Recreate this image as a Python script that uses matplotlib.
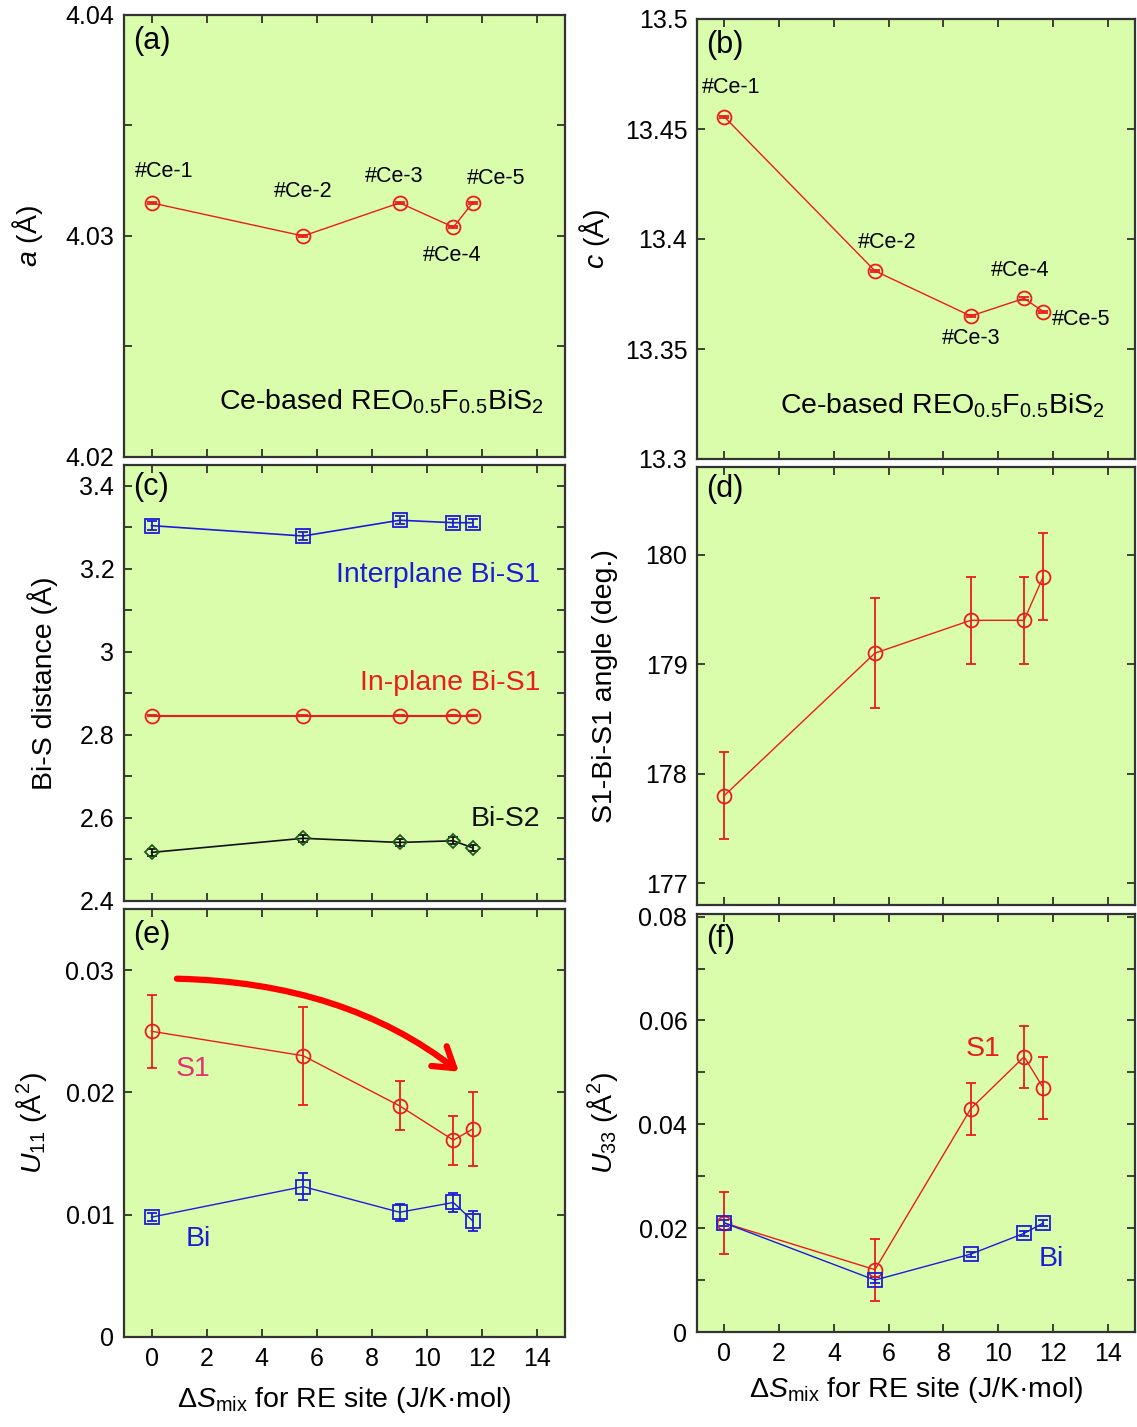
import matplotlib
matplotlib.use("Agg")
import matplotlib.pyplot as plt
from matplotlib.patches import FancyArrowPatch
from matplotlib.path import Path
from matplotlib.ticker import MultipleLocator

plt.rcParams['font.family'] = ['Liberation Sans', 'DejaVu Sans']
plt.rcParams['mathtext.fontset'] = 'custom'
plt.rcParams['mathtext.rm'] = 'Liberation Sans'
plt.rcParams['mathtext.it'] = 'Liberation Sans:italic'
plt.rcParams['mathtext.default'] = 'regular'

# mixing entropy of RE site for #Ce-1 ... #Ce-5
ds_mix = [0, 5.5, 9.0, 10.95, 11.65]
samples = ['#Ce-1', '#Ce-2', '#Ce-3', '#Ce-4', '#Ce-5']

a_val = [4.0315, 4.0300, 4.0315, 4.0304, 4.0315]
a_err = [0.00005] * 5
c_val = [13.4555, 13.3855, 13.365, 13.373, 13.367]
c_err = [0.0005] * 5

inter_bis1 = [3.304, 3.279, 3.317, 3.311, 3.311]
inter_err = [0.01] * 5
inplane_bis1 = [2.846, 2.846, 2.846, 2.846, 2.846]
inplane_err = [0.001] * 5
bis2 = [2.517, 2.551, 2.541, 2.545, 2.528]
bis2_err = [0.008] * 5

angle = [177.8, 179.1, 179.4, 179.4, 179.8]
angle_err = [0.4, 0.5, 0.4, 0.4, 0.4]

u11_s1 = [0.025, 0.023, 0.0189, 0.0161, 0.017]
u11_s1_err = [0.003, 0.004, 0.002, 0.002, 0.003]
u11_bi = [0.0098, 0.0123, 0.0102, 0.0110, 0.0095]
u11_bi_err = [0.0003, 0.0011, 0.0007, 0.0008, 0.0008]

u33_s1 = [0.021, 0.012, 0.043, 0.053, 0.047]
u33_s1_err = [0.006, 0.006, 0.005, 0.006, 0.006]
u33_bi = [0.021, 0.010, 0.015, 0.019, 0.021]
u33_bi_err = [0.0005] * 5

RED = '#ec1c1c'
BLUE = '#1c1cd8'
BG = '#d9fdab'
TICK_FS = 18
LAB_FS = 20.5
TXT_FS = 20.5
PANEL_FS = 22
CE_FS = 15.5
XLABEL = r'Δ$\mathit{S}_{mix}$ for RE site (J/K·mol)'
COMPOSITION = r'Ce-based REO$_{0.5}$F$_{0.5}$BiS$_2$'

fig = plt.figure(figsize=(11.37, 14.27), dpi=100)
W, H = 1137, 1427


def make_ax(x0, x1, y0, y1):
    ax = fig.add_axes([x0 / W, 1 - y1 / H, (x1 - x0) / W, (y1 - y0) / H])
    ax.set_facecolor(BG)
    ax.set_xlim(-1, 15)
    ax.xaxis.set_major_locator(MultipleLocator(2))
    ax.tick_params(direction='in', top=True, right=True, length=6, width=1.2,
                   labelsize=TICK_FS, pad=7, color='#222222')
    for s in ax.spines.values():
        s.set_linewidth(1.6)
        s.set_color('#333333')
    return ax


def series(ax, y, err, marker, color, ms=10, lw=1.0, mfc='none', mec=None):
    ax.errorbar(ds_mix, y, yerr=err, fmt='-', marker=marker, color=color,
                ms=ms, mfc=mfc, mec=mec or color, mew=1.3, lw=lw,
                elinewidth=1.3, capsize=3.5, capthick=1.3)


def panel_tag(ax, s, y=0.975):
    ax.text(0.02, y, s, transform=ax.transAxes, fontsize=PANEL_FS, va='top')


# (a) lattice constant a
ax = make_ax(124, 565, 15, 457)
series(ax, a_val, a_err, 'o', RED)
ax.set_ylim(4.02, 4.04)
ax.yaxis.set_major_locator(MultipleLocator(0.005))
ax.yaxis.set_major_formatter(plt.FuncFormatter(
    lambda v, p: ('%.2f' % v) if abs(round(v * 100) - v * 100) < 1e-6 else ''))
ax.tick_params(labelbottom=False)
ax.set_ylabel(r'$\mathit{a}$ (Å)', fontsize=LAB_FS)
ax.yaxis.set_label_coords(-0.18, 0.5)
panel_tag(ax, '(a)')
a_lbl = [(0.45, 4.0329), (5.5, 4.0320), (8.8, 4.0327), (10.9, 4.0291), (12.5, 4.0326)]
for s, (tx, ty) in zip(samples, a_lbl):
    ax.text(tx, ty, s, fontsize=CE_FS, ha='center', va='center')
ax.text(2.45, 4.0225, COMPOSITION, fontsize=TXT_FS, ha='left', va='center')

# (b) lattice constant c
ax = make_ax(697, 1135, 19, 459)
series(ax, c_val, c_err, 'o', RED)
ax.set_ylim(13.3, 13.5)
ax.yaxis.set_major_locator(MultipleLocator(0.05))
ax.yaxis.set_major_formatter(plt.FuncFormatter(lambda v, p: ('%.2f' % v).rstrip('0')))
ax.tick_params(labelbottom=False)
ax.set_ylabel(r'$\mathit{c}$ (Å)', fontsize=LAB_FS)
ax.yaxis.set_label_coords(-0.194, 0.5)
panel_tag(ax, '(b)')
c_lbl = [(0.25, 13.469, 'center'), (5.95, 13.3985, 'center'), (9.0, 13.3546, 'center'),
         (10.8, 13.3856, 'center'), (11.95, 13.3636, 'left')]
for s, (tx, ty, h) in zip(samples, c_lbl):
    ax.text(tx, ty, s, fontsize=CE_FS, ha=h, va='center')
ax.text(2.05, 13.324, COMPOSITION, fontsize=TXT_FS, ha='left', va='center')

# (c) Bi-S bond lengths
ax = make_ax(124, 565, 465, 901)
series(ax, inter_bis1, inter_err, 's', BLUE, lw=1.2)
series(ax, inplane_bis1, inplane_err, 'o', RED, lw=1.5)
series(ax, bis2, bis2_err, 'D', '#111111', ms=7, mec='#1e5a1e', lw=1.2)
ax.set_ylim(2.4, 3.45)
ax.yaxis.set_major_locator(MultipleLocator(0.1))
ax.yaxis.set_major_formatter(plt.FuncFormatter(
    lambda v, p: ('%g' % round(v, 1)) if round(v * 10) % 2 == 0 else ''))
ax.tick_params(labelbottom=False)
ax.set_ylabel('Bi-S distance (Å)', fontsize=LAB_FS)
ax.yaxis.set_label_coords(-0.15, 0.5)
panel_tag(ax, '(c)', 0.985)
ax.text(14.1, 3.185, 'Interplane Bi-S1', color=BLUE, fontsize=TXT_FS, ha='right', va='center')
ax.text(14.1, 2.926, 'In-plane Bi-S1', color=RED, fontsize=TXT_FS, ha='right', va='center')
ax.text(14.1, 2.597, 'Bi-S2', color='#111111', fontsize=TXT_FS, ha='right', va='center')

# (d) S1-Bi-S1 bond angle
ax = make_ax(697, 1135, 467, 905)
series(ax, angle, angle_err, 'o', RED)
ax.set_ylim(176.8, 180.8)
ax.yaxis.set_major_locator(MultipleLocator(1))
ax.yaxis.set_major_formatter(plt.FuncFormatter(lambda v, p: '%d' % round(v)))
ax.tick_params(labelbottom=False)
ax.set_ylabel('S1-Bi-S1 angle (deg.)', fontsize=LAB_FS)
ax.yaxis.set_label_coords(-0.18, 0.5)
panel_tag(ax, '(d)', 0.985)

# (e) in-plane displacement parameter U11
ax = make_ax(124, 565, 909, 1337)
series(ax, u11_s1, u11_s1_err, 'o', RED)
series(ax, u11_bi, u11_bi_err, 's', BLUE)
ax.set_ylim(0, 0.035)
ax.yaxis.set_major_locator(MultipleLocator(0.01))
ax.yaxis.set_major_formatter(plt.FuncFormatter(lambda v, p: '%g' % round(v, 3)))
ax.set_ylabel(r'$\mathit{U}_{11}$ (Å$^2$)', fontsize=LAB_FS)
ax.yaxis.set_label_coords(-0.17, 0.5)
ax.set_xlabel(XLABEL, fontsize=LAB_FS)
ax.xaxis.set_label_coords(0.5, -0.112)
panel_tag(ax, '(e)')
ax.text(1.5, 0.0219, 'S1', color='#e2336e', fontsize=TXT_FS, ha='center', va='center')
ax.text(1.7, 0.0080, 'Bi', color=BLUE, fontsize=TXT_FS, ha='center', va='center')
trend = Path([(0.92, 0.0293), (7.0, 0.0290), (11.15, 0.0217)],
             [Path.MOVETO, Path.CURVE3, Path.CURVE3])
ax.add_patch(FancyArrowPatch(path=trend, arrowstyle='->,head_length=0.7,head_width=0.45',
                             mutation_scale=20, color='#ff0000', lw=4.5))

# (f) out-of-plane displacement parameter U33
ax = make_ax(697, 1135, 914, 1332)
series(ax, u33_s1, u33_s1_err, 'o', RED)
series(ax, u33_bi, u33_bi_err, 's', BLUE)
ax.set_ylim(0, 0.0805)
ax.yaxis.set_major_locator(MultipleLocator(0.01))
ax.yaxis.set_major_formatter(plt.FuncFormatter(
    lambda v, p: ('%g' % round(v, 3)) if round(v * 100) % 2 == 0 else ''))
ax.set_ylabel(r'$\mathit{U}_{33}$ (Å$^2$)', fontsize=LAB_FS)
ax.yaxis.set_label_coords(-0.176, 0.5)
ax.set_xlabel(XLABEL, fontsize=LAB_FS)
ax.xaxis.set_label_coords(0.5, -0.103)
panel_tag(ax, '(f)')
ax.text(9.45, 0.0545, 'S1', color=RED, fontsize=TXT_FS, ha='center', va='center')
ax.text(11.95, 0.0140, 'Bi', color=BLUE, fontsize=TXT_FS, ha='center', va='center')

fig.savefig('out.png', dpi=100, facecolor='white')
